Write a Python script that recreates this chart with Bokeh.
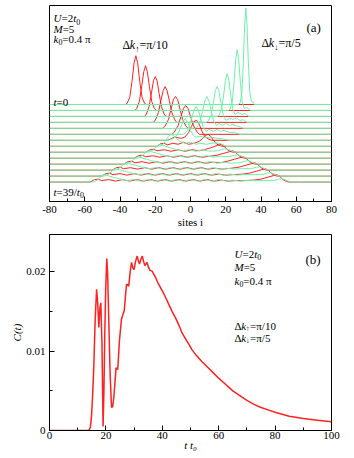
import math
from bokeh.plotting import figure
from bokeh.models import Label, Range1d, FixedTicker
from bokeh.layouts import column
from bokeh.embed import file_html
from bokeh.resources import INLINE

RED = "#ff2020"
GREEN = "#6cf2a8"
FONT = "Liberation Serif"

# ---------------- panel (a): waterfall of densities ----------------
times = [0, 3, 6, 9, 12, 15, 18, 21, 24, 27, 30, 33, 36, 39]

red_x = [
    [-80, -37, -36, -34.5, -33.2, -32, -31, -30, -28.8, -27.5, -26, -25, 80],
    [-80, -31.5, -30.5, -29, -27.7, -26.5, -25.5, -24.5, -23.3, -22, -20.5, -19.5, 80],
    [-80, -26, -25, -23.5, -22.2, -21, -20, -19, -17.8, -16.5, -15, -14, 80],
    [-80, -21, -19.9, -18.2, -16.8, -15.5, -14.4, -13.3, -12, -10.6, -8.9, -7.8, 80],
    [-80, -15.7, -14.5, -12.5, -11.1, -9.7, -8.5, -7.3, -5.9, -4.5, -2.5, -1.3, 80],
    [-80, -10.5, -9.3, -7.1, -5.5, -4, -2.7, -1.4, 0.1, 1.7, 3.9, 5.1, 80],
    [-80, -13, -11, -9, -7, -5, -3, -1, 0.5, 2, 3.5, 5, 6.5, 8, 10, 12, 80],
    [-80, -19, -17, -15, -13, -10, -7, -4, -1, 2, 5, 7, 8.5, 10, 11.5, 13, 15, 17, 18.5, 80],
    [-80, -25.5, -23, -21, -19, -15, -11, -7, -3, 1, 5, 8.5, 12.5, 15.5, 17.5, 19, 21, 23, 24.5, 80],
    [-80, -32, -29.5, -27.5, -25.5, -21.5, -17.5, -13.5, -9.5, -5.5, -1.5, 2.5, 6.5, 11, 15, 19, 22, 24, 25.5, 27.5, 29.5, 31, 80],
    [-80, -38, -35.5, -33.5, -31.5, -27.5, -23.5, -19.5, -15.5, -11.5, -7.5, -3.5, 0.5, 4.5, 8.5, 12.5, 17, 21, 25, 28, 30, 31.5, 33.5, 35.5, 37, 80],
    [-80, -44.5, -42, -40, -38, -34, -30, -26, -22, -18, -14, -10, -6, -2, 2, 6, 10, 14, 18, 23.5, 27.5, 31.5, 34.5, 36.5, 38, 40, 42, 43.5, 80],
    [-80, -50.5, -48, -46, -44, -40, -36, -32, -28, -24, -20, -16, -12, -8, -4, 0, 4, 8, 12, 16, 20, 24, 29.5, 33.5, 37.5, 40.5, 42.5, 44, 46, 48, 49.5, 80],
    [-80, -57, -54.5, -52.5, -50.5, -46.5, -42.5, -38.5, -34.5, -30.5, -26.5, -22.5, -18.5, -14.5, -10.5, -6.5, -2.5, 1.5, 5.5, 9.5, 13.5, 17.5, 21.5, 25.5, 30, 36, 40, 44, 47, 49, 50.5, 52.5, 54.5, 56, 80],
]
red_h = [
    [0, 0, 1, 7, 23, 42, 49, 42, 23, 7, 1, 0, 0],
    [0, 0, 2, 9, 24, 39, 45, 39, 24, 9, 2, 0, 0],
    [0, 0, 2.5, 10, 23, 36, 40, 36, 23, 10, 2.5, 0, 0],
    [0, 0, 2.5, 10, 22, 32, 36, 32, 22, 10, 2.5, 0, 0],
    [0, 0, 2, 9, 19, 29, 32, 29, 19, 9, 2, 0, 0],
    [0, 0, 2, 8.5, 17.5, 26, 29, 26, 17.5, 8.5, 2, 0, 0],
    [0, 0, 1.5, 3.5, 2.5, 2, 3.5, 8, 14, 19, 20, 16, 9, 4, 1.5, 0, 0],
    [0, 0, 2.5, 3, 1.5, 3, 2, 4, 2, 3, 5, 8, 11, 12, 10, 6, 2, 0.5, 0, 0],
    [0, 0, 2.5, 3, 1.5, 2.5, 1, 2.5, 1, 2.5, 1.5, 3, 5, 7, 8, 6, 2.5, 0.5, 0, 0],
    [0, 0, 2.5, 3, 1.5, 2.5, 1, 2.5, 1, 2.5, 1, 2.5, 1, 2, 3, 5, 6.5, 7.5, 6, 2.5, 0.5, 0, 0],
    [0, 0, 2.5, 3, 1.5, 2.5, 1, 2.5, 1, 2.5, 1, 2.5, 1, 2.5, 1, 2, 1.5, 3, 5, 6.5, 7.5, 6, 2.5, 0.5, 0, 0],
    [0, 0, 2.5, 3, 1.5, 2.5, 1, 2.5, 1, 2.5, 1, 2.5, 1, 2.5, 1, 2.5, 1, 2, 1, 2, 3, 5, 6.5, 7.5, 6, 2.5, 0.5, 0, 0],
    [0, 0, 2.5, 3, 1.5, 2.5, 1, 2.5, 1, 2.5, 1, 2.5, 1, 2.5, 1, 2.5, 1, 2.5, 1, 2, 1, 1.5, 2, 3, 5, 6.5, 7.5, 6, 2.5, 0.5, 0, 0],
    [0, 0, 2.5, 3, 1.5, 2.5, 1, 2.5, 1, 2.5, 1, 2.5, 1, 2.5, 1, 2.5, 1, 2.5, 1, 2.5, 1, 2, 1, 1.5, 1.5, 2, 3, 5, 6.5, 7.5, 6, 2.5, 0.5, 0, 0],
]
green_x = [
    [-80, 27, 28.2, 29.2, 30, 30.7, 31.4, 32.1, 32.8, 33.6, 34.6, 35.6, 36.2, 80],
    [-80, 21.5, 22.5, 23.7, 24.7, 25.65, 26.5, 27.35, 28.3, 29.3, 30.5, 32, 34, 80],
    [-80, 15.3, 16.3, 17.6, 18.8, 19.8, 20.8, 21.8, 22.8, 24, 25.3, 27, 29, 31, 33, 80],
    [-80, 9, 10.1, 11.6, 12.9, 14.1, 15.1, 16.1, 17.3, 18.6, 20.1, 22, 24, 26, 28, 30, 32, 80],
    [-80, 2.6, 3.8, 5.5, 6.8, 8.1, 9.3, 10.5, 11.8, 13.1, 14.8, 16, 18, 20, 22, 24, 27, 30, 80],
    [-80, -4, -2.8, -1, 0.4, 1.9, 3.2, 4.5, 6, 7.4, 9, 10.5, 13, 15, 17, 19, 22, 25, 28, 80],
    [-80, -14, -12, -10, -8, -6.5, -4.5, -3, -1.5, 0, 1.5, 3, 5, 7, 9, 12, 15, 18, 22, 80],
    [-80, -18.5, -17, -15.5, -14, -12.5, -11, -9.5, -8, -6, -3, 0, 3, 6, 9, 12, 14, 16, 18, 20, 80],
    [-80, -24.5, -23, -21, -19, -17.5, -15.5, -12.5, -8.5, -5, -1, 3, 7, 11, 15.5, 18.5, 20.5, 22.5, 25.5, 80],
    [-80, -31, -29.5, -27.5, -25.5, -24, -22, -19, -15, -11, -7, -3, 1, 5, 9, 13, 17, 22, 25, 27, 29, 32, 80],
    [-80, -37, -35.5, -33.5, -31.5, -30, -28, -25, -21, -17, -13, -9, -5, -1, 3, 7, 11, 15, 19, 23, 28, 31, 33, 35, 38, 80],
    [-80, -43.5, -42, -40, -38, -36.5, -34.5, -31.5, -27.5, -23.5, -19.5, -15.5, -11.5, -7.5, -3.5, 0.5, 4.5, 8.5, 12.5, 16.5, 20.5, 24.5, 29, 34.5, 37.5, 39.5, 41.5, 44.5, 80],
    [-80, -49.5, -48, -46, -44, -42.5, -40.5, -37.5, -33.5, -29.5, -25.5, -21.5, -17.5, -13.5, -9.5, -5.5, -1.5, 2.5, 6.5, 10.5, 14.5, 18.5, 22.5, 26.5, 30.5, 35, 40.5, 43.5, 45.5, 47.5, 50.5, 80],
    [-80, -56, -54.5, -52.5, -50.5, -49, -47, -44, -40, -36, -32, -28, -24, -20, -16, -12, -8, -4, 0, 4, 8, 12, 16, 20, 24, 28, 32, 36.5, 41.5, 47, 50, 52, 54, 57, 80],
]
green_h = [
    [0, 0, 1.5, 13, 43, 79, 97, 79, 43, 13, 3, 2.5, 0, 0],
    [0, 0, 1.3, 9, 28, 51, 61, 51, 28, 9, 2, 3, 0, 0],
    [0, 0, 1.3, 7.3, 21.5, 36, 43, 36, 21.5, 7.3, 2, 4, 2, 3, 0, 0],
    [0, 0, 1.4, 7, 19, 32, 36, 32, 19, 7, 2, 4, 3, 4.5, 2, 2.5, 0, 0],
    [0, 0, 1.5, 7.4, 17, 27.5, 32, 27.5, 17, 7.4, 3, 5, 3, 5, 3, 4, 2, 0, 0],
    [0, 0, 1.4, 6.5, 14.6, 24, 28, 24, 14.6, 6.5, 3, 5, 3, 5, 3, 4, 2, 2, 0, 0],
    [0, 0, 0.5, 1.5, 4.5, 9, 18, 22, 18, 10, 5, 3, 4, 3.5, 3, 3, 2, 1.5, 0, 0],
    [0, 0, 0.5, 2, 6, 10, 12, 10.5, 8, 5, 3, 4, 2, 3, 2, 3, 3.5, 3, 2, 0, 0],
    [0, 0, 0.5, 2.5, 6, 8, 7, 5, 3, 1.5, 2.5, 1, 2.5, 1, 1.5, 3, 3.5, 2, 0, 0],
    [0, 0, 0.5, 2.5, 6, 7.5, 6.5, 5, 3, 1.5, 2.5, 1, 2.5, 1, 2.5, 1, 2, 1.5, 3, 3.5, 2, 0, 0],
    [0, 0, 0.5, 2.5, 6, 7.5, 6.5, 5, 3, 1.5, 2.5, 1, 2.5, 1, 2.5, 1, 2.5, 1, 2, 1, 1.5, 3, 3.5, 2, 0, 0],
    [0, 0, 0.5, 2.5, 6, 7.5, 6.5, 5, 3, 1.5, 2.5, 1, 2.5, 1, 2.5, 1, 2.5, 1, 2.5, 1, 2, 1, 1.5, 1.5, 3, 3.5, 2, 0, 0],
    [0, 0, 0.5, 2.5, 6, 7.5, 6.5, 5, 3, 1.5, 2.5, 1, 2.5, 1, 2.5, 1, 2.5, 1, 2.5, 1, 2.5, 1, 2, 1, 1.5, 1.5, 1.5, 3, 3.5, 2, 0, 0],
    [0, 0, 0.5, 2.5, 6, 7.5, 6.5, 5, 3, 1.5, 2.5, 1, 2.5, 1, 2.5, 1, 2.5, 1, 2.5, 1, 2.5, 1, 2.5, 1, 2, 1, 1.5, 1.5, 1.5, 1.5, 3, 3.5, 2, 0, 0],
]
xticks_a = [-80, -60, -40, -20, 0, 20, 40, 60, 80]
xticklabels_a = ["-80", "-60", "-40", "-20", "0", "20", "40", "60", "80"]
xminor_a = [-70, -50, -30, -10, 10, 30, 50, 70]

# ---------------- panel (b): C(t) ----------------
t_vals = [0, 13.9, 14.5, 14.9, 15.3, 15.7, 16.2, 16.7, 17.1, 17.5, 17.9, 18.2, 18.6, 19.0, 19.3,
          19.6, 19.9, 20.3, 20.6, 21.0, 21.5, 22.0, 22.4, 22.8, 23.2, 23.6, 24.2, 24.8, 25.5, 26.0,
          26.5, 27.0, 27.3, 27.7, 28.1, 28.6, 29.1, 29.6, 30.0, 30.5, 31.1, 31.5, 31.9, 32.4, 32.9,
          33.4, 33.8, 34.2, 34.6, 35.1, 35.6, 36.4, 37.0, 37.6, 38.5, 40.0, 41.0, 42.3, 43.5, 44.7,
          46.0, 47.0, 48.2, 49.4, 50.5, 51.8, 54, 56, 58, 60, 62.5, 65, 67.5, 70, 72.5, 75, 77.5,
          80, 85, 90, 95, 100]
c_vals = [0, 0, 0.0004, 0.0018, 0.0045, 0.0079, 0.0140, 0.0178, 0.0160, 0.0130, 0.0155, 0.0161,
          0.0110, 0.0005, 0.0050, 0.0120, 0.0175, 0.0217, 0.0200, 0.0142, 0.0070, 0.0029, 0.0030,
          0.0041, 0.0060, 0.0079, 0.0077, 0.0113, 0.0140, 0.0146, 0.0151, 0.0172, 0.0184, 0.0184,
          0.0182, 0.0200, 0.0212, 0.0205, 0.0203, 0.0213, 0.0220, 0.0214, 0.0210, 0.0216, 0.0220,
          0.0213, 0.0208, 0.0210, 0.0212, 0.0206, 0.0202, 0.0201, 0.0197, 0.0193, 0.0186, 0.0176,
          0.0169, 0.0159, 0.0150, 0.0142, 0.0132, 0.0123, 0.0116, 0.0109, 0.0102, 0.0096, 0.0087,
          0.0080, 0.0073, 0.0066, 0.0058, 0.0050, 0.0044, 0.0038, 0.0033, 0.0029, 0.0026, 0.0023,
          0.0018, 0.0015, 0.0013, 0.0011]
xticks_b = [0, 20, 40, 60, 80, 100]
xminor_b = [10, 30, 50, 70, 90]
yticks_b = [0, 0.01, 0.02]
yticklabels_b = ["0", "0.01", "0.02"]
yminor_b = [0.005, 0.015]

# ---------------- text helpers ----------------
W_REG = {" ": .25, "(": .333, ")": .333, ".": .25, "/": .278, "=": .564, "C": .667, "M": .889,
         "U": .722, "a": .444, "b": .5, "e": .444, "i": .278, "k": .5, "s": .389, "t": .278,
         "\u03c0": .55, "\u0394": .612, "\u2191": .5, "\u2193": .5}
W_IT = {"C": .667, "M": .833, "U": .722, "i": .278, "k": .444, "t": .278}


def text_w(s, size, italic):
    tbl = W_IT if italic else W_REG
    return sum(tbl.get(ch, W_REG.get(ch, .5)) for ch in s) * size


def runs(p, x, y, parts, size):
    """parts: list of (text, italic, subscript); placed left to right from (x, y)."""
    off = 0.0
    for s, it, sub in parts:
        fs = size * 0.72 if sub else size
        p.add_layout(Label(x=x, y=y, x_offset=off, y_offset=-0.28 * size if sub else 0.0,
                           text=s, text_font=FONT, text_font_size=f"{fs:.1f}px",
                           text_font_style="italic" if it else "normal",
                           text_baseline="alphabetic", text_align="left",
                           text_color="black"))
        off += text_w(s, fs, it)


def style_axis(ax, ticks, minor, labels=None):
    ax.ticker = FixedTicker(ticks=ticks, minor_ticks=minor)
    if labels:
        ax.major_label_overrides = {t: l for t, l in zip(ticks, labels)}
    ax.major_tick_in = 5
    ax.major_tick_out = 0
    ax.minor_tick_in = 3
    ax.minor_tick_out = 0
    ax.major_tick_line_color = "black"
    ax.minor_tick_line_color = "black"
    ax.axis_line_color = "black"
    ax.major_label_text_font = FONT
    ax.major_label_text_font_size = "11px"
    ax.major_label_text_color = "black"
    ax.axis_label_text_font = FONT
    ax.axis_label_text_font_size = "11px"
    ax.axis_label_text_color = "black"


# ---------------- figure (a) ----------------
pa = figure(width=354, height=230, x_range=Range1d(-80, 80), y_range=Range1d(0, 197),
            output_backend="svg", toolbar_location=None,
            min_border_left=49, min_border_right=23, min_border_top=5, min_border_bottom=28)
pa.grid.visible = False
pa.yaxis.visible = False
pa.outline_line_color = "black"
pa.outline_line_width = 1
pa.background_fill_color = "white"
pa.border_fill_color = "white"
style_axis(pa.xaxis[0], xticks_a, xminor_a, xticklabels_a)
pa.xaxis.major_label_standoff = 4
pa.xaxis.axis_label = "sites i"
pa.xaxis.axis_label_standoff = 0
pa.xaxis.axis_label_text_font_style = "normal"

BASE0 = 97.5   # vertical position of the t=0 trace
STEP = 2.0     # vertical shift per unit of time

for t, xs, hs in zip(times, red_x, red_h):
    assert len(xs) == len(hs)
    off = BASE0 - STEP * t
    pa.line(xs, [off + h for h in hs], line_color=RED, line_width=1.0)
for t, xs, hs in zip(times, green_x, green_h):
    assert len(xs) == len(hs)
    off = BASE0 - STEP * t
    pa.line(xs, [off + h for h in hs], line_color=GREEN, line_width=1.0)


def ax_(px):
    return (px - 49) / 1.7625 - 80


def ay_(py):
    return 202 - py


runs(pa, ax_(53), ay_(18), [("U", True, False), ("=2", False, False), ("t", True, False), ("0", False, True)], 11)
runs(pa, ax_(53), ay_(28.5), [("M", True, False), ("=5", False, False)], 11)
runs(pa, ax_(53), ay_(39), [("k", True, False), ("0", False, True), ("=0.4 \u03c0", False, False)], 11)
runs(pa, ax_(122), ay_(45), [("\u0394", False, False), ("k", True, False), ("\u2191", False, True), ("=\u03c0/10", False, False)], 12)
runs(pa, ax_(261), ay_(43), [("\u0394", False, False), ("k", True, False), ("\u2193", False, True), ("=\u03c0/5", False, False)], 12)
runs(pa, ax_(306), ay_(27), [("(a)", False, False)], 13)
runs(pa, ax_(53), ay_(102), [("t", True, False), ("=0", False, False)], 11)
runs(pa, ax_(53), ay_(192), [("t", True, False), ("=39/", False, False), ("t", True, False), ("0", False, True)], 11)

# ---------------- figure (b) ----------------
pb = figure(width=354, height=227, x_range=Range1d(0, 100), y_range=Range1d(0, 0.02472),
            output_backend="svg", toolbar_location=None,
            min_border_left=49, min_border_right=23, min_border_top=4, min_border_bottom=27)
pb.grid.visible = False
pb.outline_line_color = "black"
pb.outline_line_width = 1
pb.background_fill_color = "white"
pb.border_fill_color = "white"
style_axis(pb.xaxis[0], xticks_b, xminor_b)
style_axis(pb.yaxis[0], yticks_b, yminor_b, yticklabels_b)
pb.xaxis.major_label_standoff = 1
pb.yaxis.major_label_standoff = 4
pb.xaxis.axis_label = "t t\u2080"
pb.xaxis.axis_label_text_font_style = "italic"
pb.xaxis.axis_label_standoff = -3
pb.yaxis.axis_label = "C(t)"
pb.yaxis.axis_label_text_font_style = "italic"
pb.yaxis.axis_label_standoff = 0
pb.line(t_vals, c_vals, line_color=RED, line_width=1.5)


def bx_(px):
    return (px - 49) / 2.82


def by_(py):
    return (430 - py) / 7929.0


runs(pb, bx_(234), by_(253), [("U", True, False), ("=2", False, False), ("t", True, False), ("0", False, True)], 11)
runs(pb, bx_(234), by_(266), [("M", True, False), ("=5", False, False)], 11)
runs(pb, bx_(234), by_(280), [("k", True, False), ("0", False, True), ("=0.4 \u03c0", False, False)], 11)
runs(pb, bx_(305), by_(259), [("(b)", False, False)], 13)
runs(pb, bx_(234), by_(325), [("\u0394", False, False), ("k", True, False), ("\u2191", False, True), ("=\u03c0/10", False, False)], 11)
runs(pb, bx_(234), by_(337), [("\u0394", False, False), ("k", True, False), ("\u2193", False, True), ("=\u03c0/5", False, False)], 11)

layout = column(pa, pb, spacing=0)
open("out.html", "w").write(file_html(layout, INLINE))
